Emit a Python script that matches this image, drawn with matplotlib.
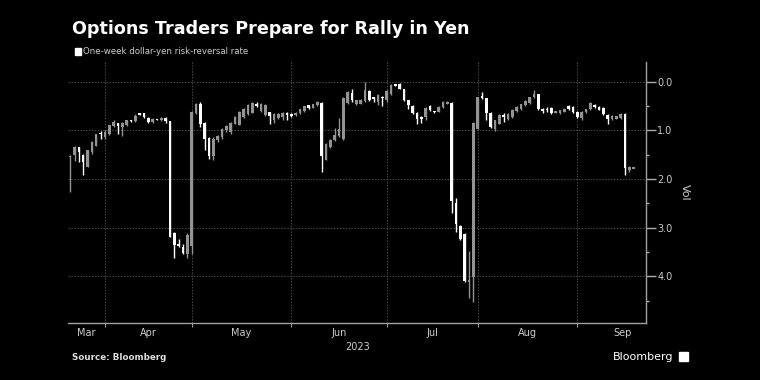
import matplotlib
matplotlib.use("Agg")
import matplotlib.pyplot as plt
import numpy as np
import pandas as pd
from matplotlib.patches import Rectangle
from matplotlib.ticker import FixedLocator, MultipleLocator, FuncFormatter, NullFormatter

# one-week dollar-yen risk reversal (shown as magnitude, axis reads downward)
dates = pd.bdate_range("2023-03-22", periods=131)

opens = [1.55, 1.51, 1.35, 1.51, 1.75, 1.44, 1.31, 1.05, 1.13, 1.08,
         0.91, 0.84, 0.93, 0.89, 0.79, 0.80, 0.65, 0.65, 0.74, 0.82,
         0.76, 0.79, 0.74, 0.80, 3.11, 3.33, 3.39, 3.55, 3.37, 0.65,
         0.45, 0.84, 1.15, 1.53, 1.20, 1.13, 1.00, 1.03, 0.86, 0.88,
         0.72, 0.67, 0.64, 0.45, 0.59, 0.68, 0.63, 0.79, 0.74, 0.72,
         0.64, 0.66, 0.69, 0.65, 0.60, 0.48, 0.53, 0.48, 0.43, 1.60,
         1.35, 1.20, 1.12, 1.17, 0.43, 0.23, 0.45, 0.45, 0.39, 0.19,
         0.32, 0.41, 0.31, 0.38, 0.24, 0.05, 0.05, 0.15, 0.38, 0.50,
         0.64, 0.72, 0.72, 0.50, 0.60, 0.62, 0.52, 0.45, 0.43, 2.49,
         2.97, 3.13, 4.12, 4.02, 0.96, 0.30, 0.34, 0.64, 0.96, 0.86,
         0.69, 0.76, 0.72, 0.60, 0.56, 0.48, 0.43, 0.32, 0.25, 0.56,
         0.55, 0.53, 0.64, 0.65, 0.62, 0.50, 0.52, 0.62, 0.74, 0.62,
         0.56, 0.47, 0.52, 0.54, 0.69, 0.76, 0.76, 0.74, 0.67, 1.81,
         1.77]
closes = [1.52, 1.35, 1.44, 1.65, 1.41, 1.24, 1.08, 1.08, 1.03, 0.89,
          0.82, 0.91, 0.84, 0.79, 0.81, 0.70, 0.67, 0.72, 0.82, 0.76,
          0.78, 0.74, 0.81, 3.20, 3.35, 3.38, 3.53, 3.15, 0.62, 0.45,
          0.86, 1.17, 1.53, 1.17, 1.11, 0.96, 0.91, 0.84, 0.72, 0.62,
          0.55, 0.48, 0.43, 0.50, 0.45, 0.48, 0.70, 0.67, 0.67, 0.64,
          0.69, 0.70, 0.64, 0.56, 0.50, 0.53, 0.46, 0.41, 1.53, 1.27,
          1.19, 1.10, 0.96, 0.33, 0.21, 0.38, 0.38, 0.37, 0.17, 0.38,
          0.36, 0.27, 0.34, 0.19, 0.07, 0.07, 0.14, 0.38, 0.48, 0.65,
          0.76, 0.76, 0.53, 0.57, 0.63, 0.52, 0.41, 0.41, 2.46, 2.93,
          3.23, 4.10, 4.08, 0.84, 0.32, 0.34, 0.65, 0.93, 0.79, 0.69,
          0.72, 0.67, 0.58, 0.52, 0.46, 0.39, 0.32, 0.24, 0.56, 0.60,
          0.57, 0.64, 0.60, 0.58, 0.55, 0.55, 0.63, 0.72, 0.62, 0.56,
          0.43, 0.52, 0.57, 0.67, 0.76, 0.71, 0.71, 0.67, 1.77, 1.76,
          1.76]
wick_min = [1.51, 1.32, 1.35, 1.48, 1.40, 1.22, 1.07, 1.02, 1.00, 0.88,
            0.79, 0.84, 0.82, 0.78, 0.78, 0.67, 0.64, 0.64, 0.72, 0.74,
            0.76, 0.72, 0.72, 0.80, 3.09, 3.23, 3.33, 3.10, 0.60, 0.43,
            0.41, 0.83, 1.13, 1.13, 1.09, 0.94, 0.89, 0.82, 0.71, 0.60,
            0.54, 0.46, 0.41, 0.41, 0.43, 0.46, 0.61, 0.65, 0.65, 0.62,
            0.62, 0.65, 0.63, 0.55, 0.49, 0.47, 0.45, 0.40, 0.41, 1.25,
            1.17, 0.94, 0.74, 0.31, 0.19, 0.14, 0.37, 0.35, 0.00, 0.17,
            0.31, 0.25, 0.29, 0.17, 0.05, 0.04, 0.03, 0.14, 0.37, 0.48,
            0.62, 0.70, 0.52, 0.48, 0.59, 0.50, 0.40, 0.40, 0.42, 2.39,
            2.94, 3.11, 3.48, 0.83, 0.31, 0.21, 0.33, 0.62, 0.78, 0.67,
            0.65, 0.65, 0.56, 0.50, 0.45, 0.38, 0.31, 0.17, 0.24, 0.53,
            0.52, 0.52, 0.59, 0.57, 0.54, 0.48, 0.50, 0.60, 0.60, 0.55,
            0.41, 0.45, 0.50, 0.52, 0.67, 0.69, 0.70, 0.65, 0.65, 1.74,
            1.75]
wick_max = [2.27, 1.62, 1.65, 1.92, 1.76, 1.48, 1.33, 1.17, 1.17, 1.09,
            0.93, 1.07, 1.11, 0.91, 0.83, 0.83, 0.69, 0.74, 0.85, 0.85,
            0.79, 0.81, 0.84, 3.20, 3.63, 3.40, 3.55, 3.62, 3.55, 0.67,
            0.93, 1.41, 1.58, 1.60, 1.24, 1.17, 1.03, 1.07, 0.87, 0.89,
            0.74, 0.69, 0.65, 0.52, 0.62, 0.70, 0.86, 0.85, 0.76, 0.78,
            0.78, 0.72, 0.70, 0.66, 0.62, 0.55, 0.54, 0.49, 1.86, 1.61,
            1.37, 1.22, 1.14, 1.19, 0.45, 0.41, 0.47, 0.46, 0.41, 0.39,
            0.41, 0.47, 0.50, 0.41, 0.28, 0.08, 0.15, 0.39, 0.55, 0.67,
            0.86, 0.85, 0.79, 0.60, 0.65, 0.63, 0.53, 0.46, 2.70, 3.09,
            3.25, 4.12, 4.44, 4.54, 0.98, 0.36, 0.79, 0.94, 1.01, 0.87,
            0.82, 0.79, 0.74, 0.62, 0.57, 0.50, 0.45, 0.33, 0.58, 0.65,
            0.62, 0.67, 0.65, 0.66, 0.63, 0.57, 0.65, 0.74, 0.79, 0.64,
            0.58, 0.53, 0.58, 0.69, 0.86, 0.79, 0.77, 0.76, 1.92, 1.86,
            1.78]

opens = np.array(opens)
closes = np.array(closes)
x = np.arange(len(opens))

BG = "black"
fig = plt.figure(figsize=(7.6, 3.8), dpi=100, facecolor=BG)
ax = fig.add_axes([0.0895, 0.149, 0.7609, 0.688])
ax.set_facecolor(BG)

rising = closes >= opens
colors = np.where(rising, "#ffffff", "#939393")
ax.vlines(x, wick_min, wick_max, colors=colors, linewidth=1, zorder=3)
heights = np.maximum(np.abs(closes - opens), 0.025)
ax.bar(x, heights, bottom=np.minimum(opens, closes), width=0.6,
       color=colors, linewidth=0, zorder=4)

ax.set_xlim(-0.5, 132.9)
ax.set_ylim(4.97, -0.41)

# month boundaries from the business-day index
month_starts = [i for i in range(1, len(dates)) if dates[i].month != dates[i - 1].month]
oct_start = len(pd.bdate_range(dates[0], "2023-10-02")) - 1
edges = [-0.5] + month_starts + [oct_start]
label_pos = [(a + b) / 2 for a, b in zip(edges[:-1], edges[1:])]
month_names = ["Mar", "Apr", "May", "Jun", "Jul", "Aug", "Sep"]

ax.xaxis.set_major_locator(FixedLocator(month_starts))
ax.xaxis.set_major_formatter(NullFormatter())
ax.xaxis.set_minor_locator(FixedLocator(label_pos))
ax.xaxis.set_minor_formatter(FuncFormatter(lambda v, p: month_names[p]))
ax.tick_params(axis="x", which="major", length=3, color="#999999")
ax.tick_params(axis="x", which="minor", length=0, pad=3, labelsize=7, labelcolor="#cccccc")

ax.yaxis.tick_right()
ax.yaxis.set_major_locator(MultipleLocator(1))
ax.yaxis.set_minor_locator(MultipleLocator(0.5))
ax.yaxis.set_major_formatter(FuncFormatter(lambda v, p: f"{v:.1f}"))
ax.tick_params(axis="y", which="major", length=7, width=1, color="#aaaaaa",
               pad=1, labelsize=7, labelcolor="#cccccc")
ax.tick_params(axis="y", which="minor", length=2.5, width=1, color="#aaaaaa")

ax.grid(True, which="major", color="#4a4a4a", linestyle=(0, (1.5, 1.5)), linewidth=0.7)
for s in ["left", "top"]:
    ax.spines[s].set_visible(False)
for s in ["right", "bottom"]:
    ax.spines[s].set_color("#a0a0a0")
    ax.spines[s].set_linewidth(1)

ax.set_ylabel("Vol", rotation=270, color="#cccccc", fontsize=8, labelpad=12)
ax.yaxis.set_label_position("right")
ax.text(0.5, -0.072, "2023", transform=ax.transAxes, ha="center", va="top",
        color="#cccccc", fontsize=7)

fig.text(72 / 760, 1 - 29 / 380, "Options Traders Prepare for Rally in Yen",
         color="white", fontsize=12.6, fontweight="bold", va="center", ha="left")
fig.patches.append(Rectangle((75 / 760, 1 - 54.5 / 380), 6 / 760, 6 / 380,
                             transform=fig.transFigure, color="white"))
fig.text(83 / 760, 1 - 52 / 380, "One-week dollar-yen risk-reversal rate",
         color="#cccccc", fontsize=6.2, va="center", ha="left")
fig.text(72 / 760, 1 - 358 / 380, "Source: Bloomberg", color="#dddddd",
         fontsize=6.3, fontweight="bold", va="center", ha="left")
fig.text(673 / 760, 1 - 357 / 380, "Bloomberg", color="white",
         fontsize=8, fontweight="medium", va="center", ha="right")
fig.patches.append(Rectangle((679 / 760, 1 - 361 / 380), 9 / 760, 9 / 380,
                             transform=fig.transFigure, color="white"))

fig.savefig("out.png", dpi=100, facecolor=BG)
